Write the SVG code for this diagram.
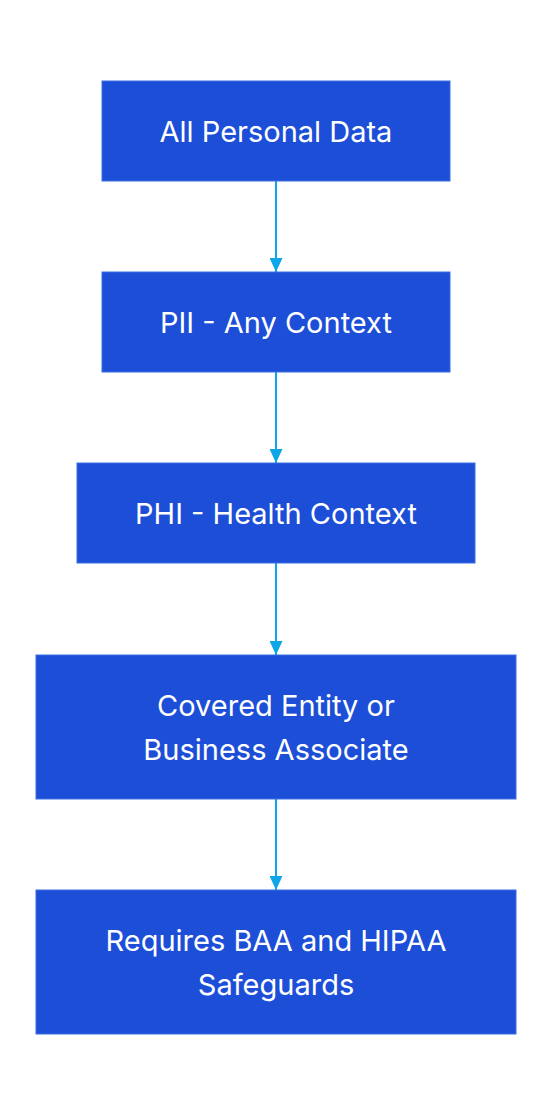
<svg xmlns="http://www.w3.org/2000/svg" width="552" height="1116" viewBox="0 0 552 1116">
<style>
.box{fill:#1d4ed8;stroke:#3b6fe0;stroke-width:1}
.lbl{fill:#ffffff;font-family:Inter,"Liberation Sans",sans-serif;font-size:29px;text-anchor:middle}
.edge{stroke:#0ea5e9;stroke-width:2;fill:none}
</style>
<defs>
<marker id="arr" viewBox="0 0 14 13" refX="14" refY="6.5" markerWidth="14" markerHeight="13" markerUnits="userSpaceOnUse" orient="auto">
<path d="M0,0 L14,6.5 L0,13 Z" fill="#0ea5e9"/>
</marker>
</defs>
<rect width="552" height="1116" fill="#ffffff"/>
<g id="connectors">
<line class="edge" x1="276" y1="181" x2="276" y2="272" marker-end="url(#arr)"/>
<line class="edge" x1="276" y1="372" x2="276" y2="463" marker-end="url(#arr)"/>
<line class="edge" x1="276" y1="563" x2="276" y2="655" marker-end="url(#arr)"/>
<line class="edge" x1="276" y1="799" x2="276" y2="890" marker-end="url(#arr)"/>
</g>
<g id="n1">
<rect class="box" x="102" y="81" width="348" height="100"/>
<text class="lbl" x="276" y="141.5">All Personal Data</text>
</g>
<g id="n2">
<rect class="box" x="102" y="272" width="348" height="100"/>
<text class="lbl" x="276" y="332.5">PII - Any Context</text>
</g>
<g id="n3">
<rect class="box" x="77" y="463" width="398" height="100"/>
<text class="lbl" x="276" y="523.5">PHI - Health Context</text>
</g>
<g id="n4">
<rect class="box" x="36" y="655" width="480" height="144"/>
<text class="lbl" x="276" y="715.5">Covered Entity or</text>
<text class="lbl" x="276" y="759.5">Business Associate</text>
</g>
<g id="n5">
<rect class="box" x="36" y="890" width="480" height="144"/>
<text class="lbl" x="276" y="950.5">Requires BAA and HIPAA</text>
<text class="lbl" x="276" y="994.5">Safeguards</text>
</g>
</svg>
